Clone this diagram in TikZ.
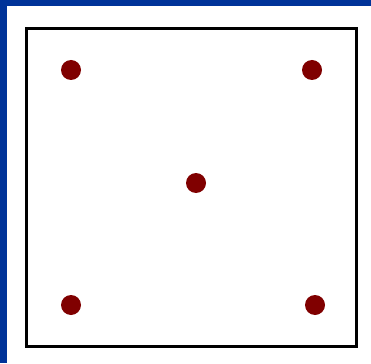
\documentclass[tikz,border=0pt]{standalone}
\usepackage{xcolor}
\usepackage{tikz}
\definecolor{framebl}{HTML}{003399}
\definecolor{dotred}{HTML}{800000}

\begin{document}
\begin{tikzpicture}[
    x=1pt, y=-1pt,
    dot/.style={circle, fill=dotred, inner sep=0pt, minimum size=20pt},
    board/.style={draw=black, line width=3pt}
]
\useasboundingbox (0,0) rectangle (371,363);
\fill[white] (0,0) rectangle (371,363);
% blue frame
\fill[framebl] (0,0) rectangle (371,6);
\fill[framebl] (0,0) rectangle (7,363);
% board
\draw[board] (26.5,28.5) rectangle (356.5,346.5);
% dots
\node[dot] (tl) at (71,70) {};
\node[dot] (tr) at (312,70) {};
\node[dot] (mid) at (196,183) {};
\node[dot] (bl) at (71,305) {};
\node[dot] (br) at (315,305) {};
\end{tikzpicture}
\end{document}
